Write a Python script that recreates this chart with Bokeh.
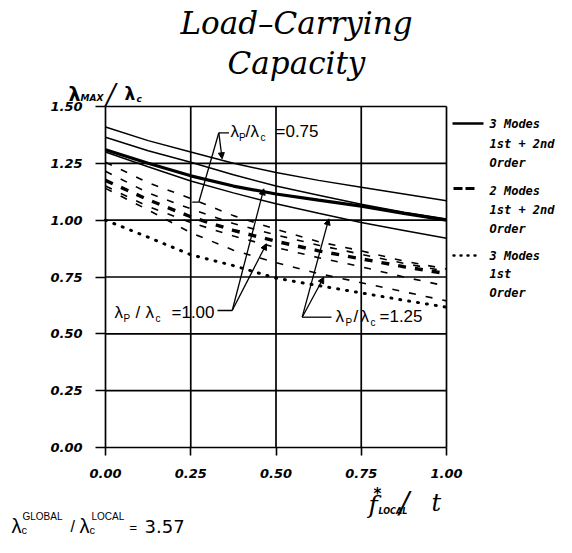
from bokeh.plotting import figure
from bokeh.models import Range1d, FixedTicker, Label, Arrow, NormalHead, PrintfTickFormatter
from bokeh.embed import file_html
from bokeh.resources import INLINE

# ---------------- data ----------------
f_local = [0.0, 0.125, 0.25, 0.375, 0.5, 0.625, 0.75, 0.875, 1.0]
# 3 modes, 1st + 2nd order (solid)
solid_a = [1.41, 1.35, 1.30, 1.25, 1.21, 1.175, 1.145, 1.115, 1.085]
solid_b = [1.365, 1.305, 1.255, 1.20, 1.15, 1.11, 1.07, 1.035, 1.005]
solid_thick = [1.31, 1.25, 1.195, 1.15, 1.115, 1.088, 1.062, 1.03, 1.0]
solid_c = [1.30, 1.235, 1.172, 1.12, 1.072, 1.03, 0.99, 0.955, 0.92]
# 2 modes, 1st + 2nd order (dashed)
dash_a = [1.255, 1.165, 1.095, 1.02, 0.96, 0.905, 0.865, 0.82, 0.785]
dash_b = [1.215, 1.12, 1.05, 0.985, 0.935, 0.89, 0.85, 0.81, 0.775]
dash_thick = [1.175, 1.09, 1.015, 0.955, 0.907, 0.865, 0.83, 0.795, 0.765]
dash_c = [1.15, 1.06, 0.99, 0.93, 0.88, 0.835, 0.795, 0.75, 0.71]
dash_d = [1.14, 1.045, 0.945, 0.868, 0.813, 0.765, 0.725, 0.685, 0.645]
# 3 modes, 1st order (dotted)
dotted_a = [1.0, 0.925, 0.848, 0.80, 0.745, 0.712, 0.68, 0.648, 0.617]

x_ticks = [0.0, 0.25, 0.5, 0.75, 1.0]
y_ticks = [0.0, 0.25, 0.5, 0.75, 1.0, 1.25, 1.5]

# leader points of the three annotations (data units)
lead_075_hub = (0.3323, 1.3843)
lead_075_tip = (0.342, 1.27)
lead_075_foot = [(0.2736, 1.079), (0.2543, 1.079)]
lead_100_hub = (0.3716, 0.6027)
lead_100_tips = [(0.4642, 1.138), (0.4721, 0.896)]
lead_125_hub = (0.5768, 0.5732)
lead_125_tips = [(0.6548, 1.006), (0.6402, 0.749)]

# ---------------- pixel helpers (canvas px) ----------------
PX0, PX1, PY0, PY1 = 105.0, 446.0, 447.0, 106.0   # px of x=0, x=1, y=0, y=1.5
SX = PX1 - PX0
SY = (PY0 - PY1) / 1.5


def dx(px):
    return (px - PX0) / SX


def dy(py):
    return (PY0 - py) / SY


W, H = 556, 537
# the frame covers the whole canvas; the axes are placed inside it
p = figure(width=W, height=H,
           x_range=Range1d(dx(0), dx(W)), y_range=Range1d(dy(H), dy(0)),
           min_border=0, min_border_left=0, min_border_right=0,
           min_border_top=0, min_border_bottom=0,
           output_backend="svg", toolbar_location=None)
p.title.visible = False
p.outline_line_color = None
p.xgrid.visible = False
p.ygrid.visible = False
p.background_fill_color = "white"
p.border_fill_color = "white"

p.xaxis.ticker = FixedTicker(ticks=x_ticks)
p.yaxis.ticker = FixedTicker(ticks=y_ticks)
p.xaxis.fixed_location = y_ticks[0]
p.yaxis.fixed_location = x_ticks[0]
for ax in (p.xaxis[0], p.yaxis[0]):
    ax.formatter = PrintfTickFormatter(format="%.2f")
    ax.axis_line_color = None
    ax.major_tick_line_color = "black"
    ax.major_tick_line_width = 1.6
    ax.major_tick_in = 0
    ax.minor_tick_line_color = None
    ax.major_label_text_font = "DejaVu Sans"
    ax.major_label_text_font_style = "bold italic"
    ax.major_label_text_font_size = "13px"
    ax.major_label_text_color = "black"
p.xaxis.major_tick_out = 8
p.yaxis.major_tick_out = 10
p.xaxis.major_label_standoff = 13
p.yaxis.major_label_standoff = 13

# grid + border
nx, ny = len(x_ticks), len(y_ticks)
p.segment(x0=x_ticks, y0=[y_ticks[0]] * nx, x1=x_ticks, y1=[y_ticks[-1]] * nx,
          line_color="black", line_width=1.7)
p.segment(x0=[x_ticks[0]] * ny, y0=y_ticks, x1=[x_ticks[-1]] * ny, y1=y_ticks,
          line_color="black", line_width=1.7)

# curves
for ys in (solid_a, solid_b, solid_c):
    p.line(f_local, ys, line_color="black", line_width=1.5)
p.line(f_local, solid_thick, line_color="black", line_width=3.2)
for ys in (dash_a, dash_b, dash_c, dash_d):
    p.line(f_local, ys, line_color="black", line_width=1.6, line_dash="7 10")
p.line(f_local, dash_thick, line_color="black", line_width=3.4, line_dash="8 9")
p.line(f_local, dotted_a, line_color="black", line_width=3.0, line_dash="1 8", line_cap="round")


# ---------------- text helper (py = wanted baseline, in canvas px) ----------------
def lab(text, px, py, size, style="normal", font="Liberation Sans", align="left"):
    p.add_layout(Label(x=dx(px), y=dy(py - 0.35 * size), text=text, text_font=font,
                       text_font_size=f"{size}px", text_font_style=style,
                       text_align=align, text_baseline="middle", text_color="black"))


# title
lab("Load–Carrying", 296, 33, 31, "italic", "DejaVu Serif", "center")
lab("Capacity", 296, 73, 31, "italic", "DejaVu Serif", "center")

# y-axis label  λ_MAX / λ_c
lab("λ", 68, 100, 19, "bold", "DejaVu Sans")
lab("MAX", 80, 101, 9, "bold italic", "DejaVu Sans")
lab("/", 106, 103, 27, "italic", "DejaVu Serif")
lab("λ", 124, 99, 17, "bold", "DejaVu Sans")
lab("c", 136, 102, 9, "bold italic", "DejaVu Sans")

# x-axis label  f*_LOCAL / t
lab("f", 368, 513, 25, "italic", "DejaVu Serif")
lab("*", 373, 499, 15, "bold", "DejaVu Sans")
lab("LOCAL", 378, 514, 8, "bold italic", "DejaVu Sans")
lab("/", 399, 513, 29, "italic", "DejaVu Serif")
lab("t", 431, 511, 24, "italic", "DejaVu Serif")

# bottom note  λc^GLOBAL / λc^LOCAL = 3.57
BY = 532
lab("λ", 11, BY, 20)
lab("c", 21, BY + 1, 11)
lab("GLOBAL", 22, BY - 13, 10)
lab("/", 70, BY, 16)
lab("λ", 79, BY, 20)
lab("c", 89, BY + 1, 11)
lab("LOCAL", 91, BY - 13, 10)
lab("=", 129, BY, 13)
lab("3.57", 144, BY, 18, "normal", "DejaVu Sans")


# annotation labels  λP/λc = ...
def ann(py, parts_x, number):
    lab("λ", parts_x[0], py, 17)
    lab("P", parts_x[1], py + 3, 10)
    lab("/", parts_x[2], py, 17)
    lab("λ", parts_x[3], py, 17)
    lab("c", parts_x[4], py + 3, 10)
    lab("=" + number, parts_x[5], py, 17)


ann(137, [230, 238.5, 245, 250, 260, 275], "0.75")
ann(318, [114, 123, 135, 145, 155, 171], "1.00")
ann(322, [335, 345, 353, 360, 370, 379], "1.25")


# leader lines
def seg(a, b, head=False):
    if head:
        p.add_layout(Arrow(x_start=a[0], y_start=a[1], x_end=b[0], y_end=b[1],
                           line_color="black", line_width=1.3,
                           end=NormalHead(size=6, line_color="black", fill_color="black")))
    else:
        p.line([a[0], b[0]], [a[1], b[1]], line_color="black", line_width=1.3)


seg(lead_075_hub, (dx(228.5), lead_075_hub[1]))
seg(lead_075_hub, lead_075_tip, head=True)
seg(lead_075_hub, lead_075_foot[0])
seg(lead_075_foot[0], lead_075_foot[1])

seg((dx(217), lead_100_hub[1]), lead_100_hub)
for t in lead_100_tips:
    seg(lead_100_hub, t, head=True)

seg(lead_125_hub, (dx(331), lead_125_hub[1]))
for t in lead_125_tips:
    seg(lead_125_hub, t, head=True)

# legend (drawn to the right of the chart box)
p.line([dx(452), dx(483)], [dy(123), dy(123)], line_color="black", line_width=2.6)
p.line([dx(453), dx(474)], [dy(188), dy(188)], line_color="black", line_width=3.2, line_dash="9 3")
p.line([dx(453), dx(478)], [dy(255), dy(255)], line_color="black", line_width=2.4,
       line_dash="1 6", line_cap="round")
LF = "DejaVu Sans Mono"
for txt, yy in (("3 Modes", 128), ("1st + 2nd", 148), ("Order", 167),
                ("2 Modes", 195), ("1st + 2nd", 214), ("Order", 233),
                ("3 Modes", 260), ("1st", 278), ("Order", 297)):
    lab(txt, 489, yy, 12, "bold italic", LF)

open("out.html", "w").write(file_html(p, INLINE))
